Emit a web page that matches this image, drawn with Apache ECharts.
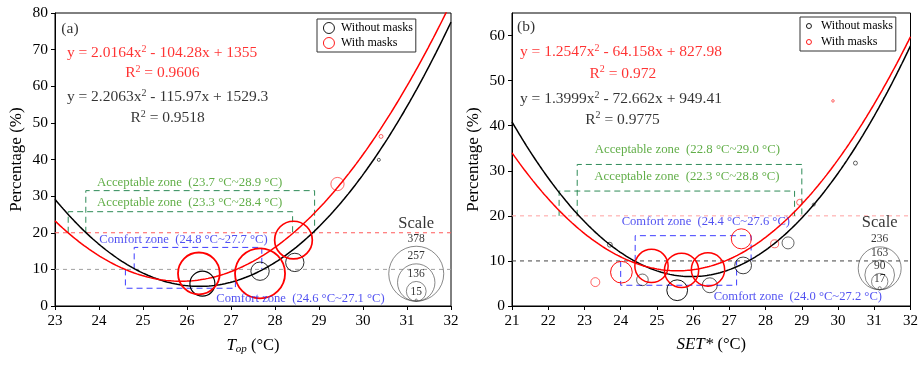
<!DOCTYPE html>
<html>
<head>
<meta charset="utf-8">
<script src="https://cdn.jsdelivr.net/npm/echarts@6/dist/echarts.min.js"></script>
<style>
  html, body { margin: 0; padding: 0; background: #fff; }
  #chart { width: 921px; height: 365px; }
</style>
</head>
<body>
<div id="chart"></div>
<script>
// ---- Panel (a): percentage vs operative temperature ----
const topNoMaskX = [26.35, 27.66, 28.45, 30.36];
const topNoMaskY = [6.1, 9.5, 11.9, 39.9];
const topNoMaskN = [172, 126, 126, 21];
const topMaskX = [26.27, 27.66, 28.42, 29.42, 30.41];
const topMaskY = [8.9, 8.9, 18.0, 33.3, 46.3];
const topMaskN = [287, 344, 259, 91, 27];
const topFitMask = [2.0164, -104.28, 1355];
const topFitNoMask = [2.2063, -115.97, 1529.3];
const topR2Mask = '0.9606';
const topR2NoMask = '0.9518';
const topScale = [378, 257, 136, 15];
const topAcceptable = [[23.7, 28.9], [23.3, 28.4]];
const topComfort = [[24.8, 27.7], [24.6, 27.1]];

// ---- Panel (b): percentage vs SET* ----
const setNoMaskX = [23.7, 24.6, 25.56, 26.46, 27.38, 28.62, 29.33, 30.48];
const setNoMaskY = [13.6, 5.8, 3.5, 4.6, 9.0, 14.0, 22.5, 31.7];
const setNoMaskN = [27, 64, 114, 82, 92, 66, 16, 22];
const setMaskX = [23.3, 24.02, 24.85, 25.68, 26.41, 27.33, 28.25, 28.94, 29.86];
const setMaskY = [5.3, 7.5, 8.9, 7.9, 8.1, 14.9, 13.8, 23.0, 45.5];
const setMaskN = [49, 119, 183, 188, 183, 110, 44, 33, 14];
const setFitMask = [1.2547, -64.158, 827.98];
const setFitNoMask = [1.3999, -72.662, 949.41];
const setR2Mask = '0.972';
const setR2NoMask = '0.9775';
const setScale = [236, 163, 90, 17];
const setAcceptable = [[22.8, 29.0], [22.3, 28.8]];
const setComfort = [[24.4, 27.6], [24.0, 27.2]];

const FONT = '"Liberation Serif", "Times New Roman", serif';
const RED = '#ff0000';
const BLACK = '#000000';
const GREEN_LINE = '#2e8b57';
const GREEN_TEXT = '#3a9a1a';
const BLUE_LINE = '#3d3dff';
const BLUE_TEXT = '#2525ee';

const panels = [
  {
    tag: '(a)', xMin: 23, xMax: 32, yMax: 80,
    grid: { left: 55, top: 13, width: 396, height: 293 },
    noMask: [topNoMaskX, topNoMaskY, topNoMaskN],
    mask: [topMaskX, topMaskY, topMaskN],
    fitMask: topFitMask, fitNoMask: topFitNoMask,
    r2Mask: topR2Mask, r2NoMask: topR2NoMask,
    scale: topScale, pxPerCount: 0.1455, scaleAt: [31.21, 1.3], scaleTitleAt: [31.21, 22.4],
    acceptable: topAcceptable, acceptTops: [31.5, 25.75],
    comfort: topComfort, comfortTop: 16, comfortBottom: 4.85,
    refLine20: '#ff5a5a', refLine10: '#a0a0a0',
    tagAt: [23.34, 75.6],
    eqMaskAt: [23.27, 69.1], r2MaskAt: [25.44, 63.6],
    eqNoMaskAt: [23.27, 57.05], r2NoMaskAt: [25.56, 51.3],
    accLabelAt: [[26.06, 33.8], [26.06, 28.2]],
    comLabelAt: [[25.92, 18.2], [28.58, 1.9]],
    xName: '{i|T}{sub|op}{n| (°C)}'
  },
  {
    tag: '(b)', xMin: 21, xMax: 32, yMax: 65,
    grid: { left: 512, top: 13, width: 399, height: 293 },
    noMask: [setNoMaskX, setNoMaskY, setNoMaskN],
    mask: [setMaskX, setMaskY, setMaskN],
    fitMask: setFitMask, fitNoMask: setFitNoMask,
    r2Mask: setR2Mask, r2NoMask: setR2NoMask,
    scale: setScale, pxPerCount: 0.182, scaleAt: [31.15, 3.6], scaleTitleAt: [31.15, 18.5],
    acceptable: setAcceptable, acceptTops: [31.4, 25.5],
    comfort: setComfort, comfortTop: 15.6, comfortBottom: 4.6,
    refLine20: '#ffa0a0', refLine10: '#444444',
    tagAt: [21.39, 62.0],
    eqMaskAt: [21.22, 56.3], r2MaskAt: [24.06, 51.5],
    eqNoMaskAt: [21.22, 45.9], r2NoMaskAt: [24.05, 41.3],
    accLabelAt: [[25.84, 34.6], [25.83, 28.7]],
    comLabelAt: [[26.35, 18.6], [28.89, 2.06]],
    xName: '{i|SET*}{n| (°C)}'
  }
];

function fitPoints(c, x0, x1) {
  const pts = [];
  for (let x = x0; x <= x1 + 1e-9; x += 0.02) {
    pts.push([x, c[0] * x * x + c[1] * x + c[2]]);
  }
  return pts;
}

function eqText(c) {
  const b = (c[1] < 0 ? ' - ' : ' + ') + Math.abs(c[1]);
  const k = (c[2] < 0 ? ' - ' : ' + ') + Math.abs(c[2]);
  return '{e|y = ' + c[0] + 'x}{s|2}{e|' + b + 'x' + k + '}';
}

function richFor(color) {
  return {
    e: { fontFamily: FONT, fontSize: 15.5, color: color, lineHeight: 18 },
    s: { fontFamily: FONT, fontSize: 10, color: color, lineHeight: 10, verticalAlign: 'top' }
  };
}

function note(pos, text, opts) {
  return {
    value: pos,
    label: Object.assign({
      show: true, position: 'inside', formatter: text,
      fontFamily: FONT, color: '#000', align: 'center', verticalAlign: 'middle'
    }, opts)
  };
}

const grids = [], xAxes = [], yAxes = [], series = [];

panels.forEach((p, i) => {
  grids.push(Object.assign({ show: true, borderColor: '#000', borderWidth: 1, backgroundColor: 'transparent' }, p.grid));
  xAxes.push({
    gridIndex: i, type: 'value', min: p.xMin, max: p.xMax, interval: 1,
    axisLine: { onZero: false, lineStyle: { color: '#000', width: 1 } },
    axisTick: { length: 4, lineStyle: { color: '#000' } },
    axisLabel: { fontFamily: FONT, fontSize: 15, color: '#000', margin: 8 },
    splitLine: { show: false },
    name: p.xName, nameLocation: 'middle', nameGap: 30,
    nameTextStyle: {
      fontFamily: FONT, fontSize: 16, color: '#000',
      rich: {
        i: { fontFamily: FONT, fontSize: 17, fontStyle: 'italic', color: '#000' },
        sub: { fontFamily: FONT, fontSize: 11, fontStyle: 'italic', color: '#000', verticalAlign: 'bottom', padding: [8, 0, 0, 0] },
        n: { fontFamily: FONT, fontSize: 16.5, color: '#000' }
      }
    }
  });
  yAxes.push({
    gridIndex: i, type: 'value', min: 0, max: p.yMax, interval: 10,
    axisLine: { show: true, onZero: false, lineStyle: { color: '#000', width: 1 } },
    axisTick: { show: true, length: 4, lineStyle: { color: '#000' } },
    axisLabel: { fontFamily: FONT, fontSize: 15.5, color: '#000', margin: 7, showMaxLabel: p.yMax % 10 === 0 },
    splitLine: { show: false },
    name: 'Percentage (%)', nameLocation: 'middle', nameGap: 30, nameRotate: 90,
    nameTextStyle: { fontFamily: FONT, fontSize: 17, color: '#000' }
  });

  const ax = { xAxisIndex: i, yAxisIndex: i };
  const dashed = (color, data, dash) => Object.assign({
    type: 'line', data: data, symbol: 'none', silent: true, z: 2,
    lineStyle: { color: color, width: 1, type: dash || [5, 4] }
  }, ax);

  // reference levels at 20 % and 10 %
  series.push(dashed(p.refLine20, [[p.xMin, 20], [p.xMax, 20]], [4, 4]));
  series.push(dashed(p.refLine10, [[p.xMin, 10], [p.xMax, 10]], [4, 4]));

  // acceptable zones (open towards the 20 % line)
  p.acceptable.forEach((r, k) => {
    const t = p.acceptTops[k];
    series.push(dashed(GREEN_LINE, [[r[0], 20], [r[0], t], [r[1], t], [r[1], 20]], [6, 4]));
  });
  // comfort zones (above / below the 10 % line)
  const c0 = p.comfort[0], c1 = p.comfort[1];
  series.push(dashed(BLUE_LINE, [[c0[0], 10], [c0[0], p.comfortTop], [c0[1], p.comfortTop], [c0[1], 10]], [6, 4]));
  series.push(dashed(BLUE_LINE, [[c1[0], 10], [c1[0], p.comfortBottom], [c1[1], p.comfortBottom], [c1[1], 10]], [6, 4]));

  // fitted curves
  series.push(Object.assign({
    type: 'line', data: fitPoints(p.fitNoMask, p.xMin, p.xMax), symbol: 'none', silent: true, z: 4,
    lineStyle: { color: BLACK, width: 1.5 }
  }, ax));
  series.push(Object.assign({
    type: 'line', data: fitPoints(p.fitMask, p.xMin, p.xMax), symbol: 'none', silent: true, z: 4,
    lineStyle: { color: RED, width: 1.5 }
  }, ax));

  // bubbles, diameter proportional to count; outline thins out on small bubbles
  const bubbles = (name, src, color) => Object.assign({
    type: 'scatter', name: name, symbol: 'circle', z: 5,
    data: src[0].map((x, j) => {
      const d = src[2][j] * p.pxPerCount;
      return {
        value: [x, src[1][j], src[2][j]],
        itemStyle: { borderWidth: Math.max(0.6, Math.min(1.8, d * 0.045)) }
      };
    }),
    symbolSize: v => v[2] * p.pxPerCount,
    itemStyle: { color: 'rgba(0,0,0,0)', borderColor: color, borderWidth: 1.5, opacity: 1 }
  }, ax);
  series.push(bubbles('Without masks', p.noMask, BLACK));
  series.push(bubbles('With masks', p.mask, RED));

  // size key: nested circles touching at the bottom
  series.push(Object.assign({
    type: 'scatter', symbol: 'circle', silent: true, z: 5,
    data: p.scale.map(n => ({
      value: [p.scaleAt[0], p.scaleAt[1], n],
      symbolOffset: [0, '-50%'],
      label: { show: true, position: 'top', distance: 1, formatter: String(n),
               fontFamily: FONT, fontSize: 11.5, color: '#000' }
    })),
    symbolSize: v => v[2] * p.pxPerCount,
    itemStyle: { color: 'rgba(0,0,0,0)', borderColor: '#444', borderWidth: 0.8 }
  }, ax));

  // text annotations
  series.push(Object.assign({
    type: 'scatter', symbol: 'circle', symbolSize: 1, silent: true, z: 6,
    itemStyle: { color: 'rgba(0,0,0,0)' },
    data: [
      note(p.tagAt, p.tag, { fontSize: 15.5 }),
      note(p.eqMaskAt, eqText(p.fitMask), { align: 'left', rich: richFor(RED) }),
      note(p.r2MaskAt, '{e|R}{s|2}{e| = ' + p.r2Mask + '}', { rich: richFor(RED) }),
      note(p.eqNoMaskAt, eqText(p.fitNoMask), { align: 'left', rich: richFor(BLACK) }),
      note(p.r2NoMaskAt, '{e|R}{s|2}{e| = ' + p.r2NoMask + '}', { rich: richFor(BLACK) }),
      note(p.accLabelAt[0], 'Acceptable zone  (' + p.acceptable[0][0].toFixed(1) + ' °C~' + p.acceptable[0][1].toFixed(1) + ' °C)', { fontSize: 12.8, color: GREEN_TEXT }),
      note(p.accLabelAt[1], 'Acceptable zone  (' + p.acceptable[1][0].toFixed(1) + ' °C~' + p.acceptable[1][1].toFixed(1) + ' °C)', { fontSize: 12.8, color: GREEN_TEXT }),
      note(p.comLabelAt[0], 'Comfort zone  (' + p.comfort[0][0].toFixed(1) + ' °C~' + p.comfort[0][1].toFixed(1) + ' °C)', { fontSize: 12.6, color: BLUE_TEXT }),
      note(p.comLabelAt[1], 'Comfort zone  (' + p.comfort[1][0].toFixed(1) + ' °C~' + p.comfort[1][1].toFixed(1) + ' °C)', { fontSize: 12.6, color: BLUE_TEXT }),
      note(p.scaleTitleAt, 'Scale', { fontSize: 16.5 })
    ]
  }, ax));
});

const legendBase = {
  orient: 'vertical', data: ['Without masks', 'With masks'],
  borderColor: '#333', borderWidth: 1, backgroundColor: '#fff',
  itemGap: 3, selectedMode: false,
  itemStyle: { borderWidth: 0.9 },
  textStyle: { fontFamily: FONT, fontSize: 12, color: '#000' }
};

const chart = echarts.init(document.getElementById('chart'), null, { renderer: 'canvas' });
chart.setOption({
  animation: false,
  backgroundColor: '#fff',
  grid: grids,
  xAxis: xAxes,
  yAxis: yAxes,
  legend: [
    Object.assign({}, legendBase, { left: 317, top: 19, padding: [3, 3, 3, 6], itemWidth: 14, itemHeight: 11 }),
    Object.assign({}, legendBase, { left: 800, top: 17, padding: [3, 3, 3, 6], itemWidth: 14, itemHeight: 5, itemGap: 4 })
  ],
  series: series
});
</script>
</body>
</html>
